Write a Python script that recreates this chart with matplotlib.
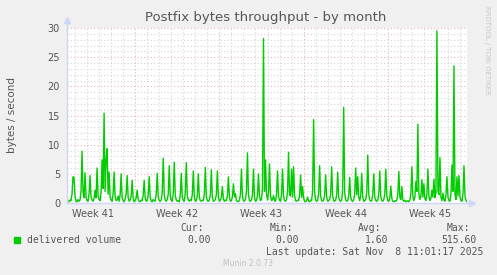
import matplotlib
matplotlib.use("Agg")

import pandas as pd
import matplotlib.pyplot as plt

# ─────────────────────────────────────────────────────────────
# DATA  (bytes / second, one sample every 2 hours, 12 per row = 1 day)
# ─────────────────────────────────────────────────────────────
delivered = [
    0.8, 0.3, 0.2, 0.5, 0.4, 1.5, 4.5, 4.4, 1.2, 0.3, 0.2, 0.6,
    0.3, 0.5, 2.0, 8.9, 1.8, 0.9, 5.2, 1.0, 0.4, 0.3, 1.5, 4.7,
    1.0, 0.5, 0.3, 0.8, 2.2, 0.9, 6.0, 1.2, 0.6, 0.4, 1.8, 7.4,
    2.5, 15.4, 2.0, 7.4, 9.3, 1.5, 5.3, 1.0, 0.5, 0.3, 1.6, 5.3,
    1.1, 0.4, 0.5, 1.2, 0.3, 1.4, 5.0, 1.0, 0.4, 0.2, 0.7, 1.5,
    4.7, 1.0, 0.3, 0.5, 1.2, 3.9, 0.8, 0.2, 0.4, 0.9, 2.2, 0.6,
    0.3, 0.2, 0.5, 0.4, 1.3, 3.9, 0.9, 0.3, 0.4, 1.4, 4.5, 1.0,
    0.3, 0.2, 0.6, 0.4, 0.3, 1.6, 5.1, 1.1, 0.4, 0.3, 0.5, 1.8,
    7.7, 1.4, 0.5, 0.3, 0.6, 1.5, 6.4, 1.2, 0.4, 0.3, 1.7, 7.0,
    1.3, 0.5, 0.3, 0.4, 0.2, 1.4, 5.1, 1.0, 0.4, 0.3, 1.8, 6.9,
    1.2, 0.5, 0.3, 0.6, 0.4, 1.5, 5.5, 1.0, 0.3, 0.4, 1.3, 5.0,
    1.0, 0.4, 0.3, 0.5, 0.4, 1.6, 6.1, 1.1, 0.4, 0.3, 0.5, 1.4,
    5.7, 1.0, 0.3, 0.4, 0.6, 1.5, 5.5, 1.0, 0.3, 0.5, 1.0, 2.8,
    0.7, 0.3, 0.5, 0.4, 1.3, 4.5, 1.0, 0.3, 0.4, 1.0, 3.3, 1.1,
    1.6, 0.4, 0.3, 0.2, 0.5, 1.5, 5.8, 1.1, 0.4, 0.3, 0.6, 2.0,
    8.6, 1.5, 0.4, 0.3, 0.5, 1.4, 5.8, 1.0, 0.3, 0.4, 1.3, 5.0,
    1.2, 0.4, 0.6, 2.5, 28.2, 2.0, 7.4, 1.6, 0.5, 1.8, 6.7, 1.3,
    0.4, 0.6, 1.3, 0.4, 0.3, 1.5, 5.5, 1.1, 0.5, 0.3, 1.4, 5.8,
    1.2, 0.4, 0.3, 0.6, 2.0, 8.7, 1.4, 1.2, 5.8, 1.0, 6.2, 1.3,
    0.4, 0.3, 0.5, 0.4, 1.3, 4.8, 1.0, 2.8, 0.8, 0.3, 0.2, 0.4,
    1.0, 0.3, 0.2, 0.5, 0.4, 2.0, 14.3, 2.0, 0.5, 0.3, 0.4, 1.6,
    6.4, 1.2, 0.4, 0.3, 0.5, 1.3, 4.8, 1.0, 0.3, 0.4, 0.6, 1.5,
    6.2, 1.2, 0.4, 0.3, 0.5, 1.4, 5.3, 1.0, 0.4, 0.3, 0.5, 2.2,
    16.4, 1.8, 0.5, 0.3, 0.4, 1.2, 4.4, 0.9, 0.4, 0.3, 0.5, 1.6,
    6.0, 1.4, 4.5, 1.0, 0.4, 1.3, 5.1, 1.0, 0.3, 0.4, 0.6, 1.8,
    8.2, 1.5, 0.5, 0.3, 0.4, 1.4, 5.0, 1.0, 0.4, 0.3, 0.5, 1.5,
    5.5, 1.1, 0.4, 0.3, 0.6, 1.6, 5.8, 1.2, 0.4, 0.3, 0.8, 2.9,
    0.8, 0.3, 0.2, 0.4, 0.3, 0.5, 1.5, 5.4, 1.0, 0.6, 2.8, 0.5,
    0.3, 0.5, 0.2, 0.3, 0.4, 0.2, 0.5, 1.6, 6.2, 1.2, 0.4, 1.0,
    3.7, 2.0, 13.5, 1.5, 0.6, 1.2, 4.0, 1.0, 3.3, 0.8, 0.4, 1.5,
    5.8, 1.2, 0.4, 0.8, 2.2, 1.0, 4.1, 0.9, 1.8, 29.5, 2.0, 1.4,
    7.8, 1.0, 0.4, 1.7, 0.5, 0.3, 1.4, 4.5, 1.0, 0.4, 0.3, 1.6,
    6.5, 2.0, 23.5, 1.5, 0.6, 4.5, 1.2, 4.7, 1.0, 0.4, 0.3, 1.5,
    6.4, 1.2, 0.4, 0.2,
]
END_TIME    = "2025-11-08 14:00"
week_starts = ["2025-10-05", "2025-10-12", "2025-10-19", "2025-10-26", "2025-11-02"]
week_labels = ["Week 41", "Week 42", "Week 43", "Week 44", "Week 45"]
y_ticks     = [0, 5, 10, 15, 20, 25, 30]

legend_name  = "delivered volume"
stat_heads   = ["Cur:", "Min:", "Avg:", "Max:"]
stat_values  = ["0.00", "0.00", "1.60", "515.60"]
last_update  = "Last update: Sat Nov  8 11:01:17 2025"

# ─────────────────────────────────────────────────────────────
# STYLE (munin colours)
# ─────────────────────────────────────────────────────────────
W, H      = 497, 275
BACK      = "#F0F0F0"
FONT_COL  = "#555555"
AXIS_COL  = "#CFD6F8"
LINE_COL  = "#00CC00"
GRID_COL  = "#D4D4D4"
MGRID_COL = "#E8B4B4"

def fx(px):
    return px / W

def fy(py):
    return 1 - py / H

fig = plt.figure(figsize=(W / 100, H / 100), dpi=100, facecolor=BACK)
ax = fig.add_axes([fx(67), fy(203), 400 / W, 175 / H])
ax.set_facecolor("white")
for s in ax.spines.values():
    s.set_visible(False)

times = pd.date_range(end=END_TIME, periods=len(delivered), freq="2h")
ax.set_xlim(times[0], times[-1])
ax.set_ylim(0, 30)

# grid
dots = (0, (1, 2))
for v in range(1, 31):
    major = v % 5 == 0
    ax.axhline(v, color=MGRID_COL if major else GRID_COL, lw=0.8,
               ls=dots, zorder=1)
sundays = set(pd.to_datetime(week_starts))
for d in pd.date_range(times[0].ceil("D"), times[-1], freq="D"):
    major = d in sundays
    ax.axvline(d, color=MGRID_COL if major else GRID_COL, lw=0.8,
               ls=dots, zorder=1)

ax.plot(times, delivered, color=LINE_COL, lw=1.0, zorder=3)

# axes + arrows
ax.plot([0, 0], [0, 1.045], transform=ax.transAxes, color=AXIS_COL,
        lw=1, clip_on=False, zorder=4)
ax.plot([0, 1.012], [0, 0], transform=ax.transAxes, color=AXIS_COL,
        lw=1, clip_on=False, zorder=4)
ax.plot([0], [1.045], transform=ax.transAxes, marker="^", ms=5,
        color=AXIS_COL, clip_on=False, zorder=4)
ax.plot([1.012], [0], transform=ax.transAxes, marker=">", ms=5,
        color=AXIS_COL, clip_on=False, zorder=4)

# ticks
ax.set_yticks(y_ticks)
ax.set_yticklabels([str(t) for t in y_ticks])
centers = [pd.Timestamp(s) + pd.Timedelta(hours=84) for s in week_starts]
ax.set_xticks(centers)
ax.set_xticklabels(week_labels)
ax.tick_params(axis="both", length=0, colors=FONT_COL, labelsize=7)
ax.tick_params(axis="y", pad=5)
ax.tick_params(axis="x", pad=4)

# texts
fig.text(fx(266), fy(18), "Postfix bytes throughput - by month",
         ha="center", va="center", fontsize=9.5, color=FONT_COL)
fig.text(fx(12), fy(115), "bytes / second", rotation=90,
         ha="center", va="center", fontsize=7.5, color=FONT_COL)
fig.text(fx(487), fy(6), "RRDTOOL / TOBI OETIKER", rotation=270,
         ha="center", va="top", fontsize=5, color="#C8C8C8")

# legend
mono = "DejaVu Sans Mono"
fig.patches.append(plt.Rectangle((fx(14), fy(243)), 6 / W, 6 / H,
                                 transform=fig.transFigure, color=LINE_COL))
fig.text(fx(27), fy(240), legend_name, ha="left", va="center",
         fontsize=7, family=mono, color=FONT_COL)
head_x  = [204, 293, 381, 470]
value_x = [211, 299, 388, 477]
for hx, vx, h, v in zip(head_x, value_x, stat_heads, stat_values):
    fig.text(fx(hx), fy(228), h, ha="right", va="center",
             fontsize=7, family=mono, color=FONT_COL)
    fig.text(fx(vx), fy(240), v, ha="right", va="center",
             fontsize=7, family=mono, color=FONT_COL)
fig.text(fx(483), fy(252), last_update, ha="right", va="center",
         fontsize=7, family=mono, color=FONT_COL)
fig.text(fx(248), fy(264), "Munin 2.0.73", ha="center", va="center",
         fontsize=5.5, color="#C0C0C0")

fig.savefig("out.png", dpi=100, facecolor=BACK)
